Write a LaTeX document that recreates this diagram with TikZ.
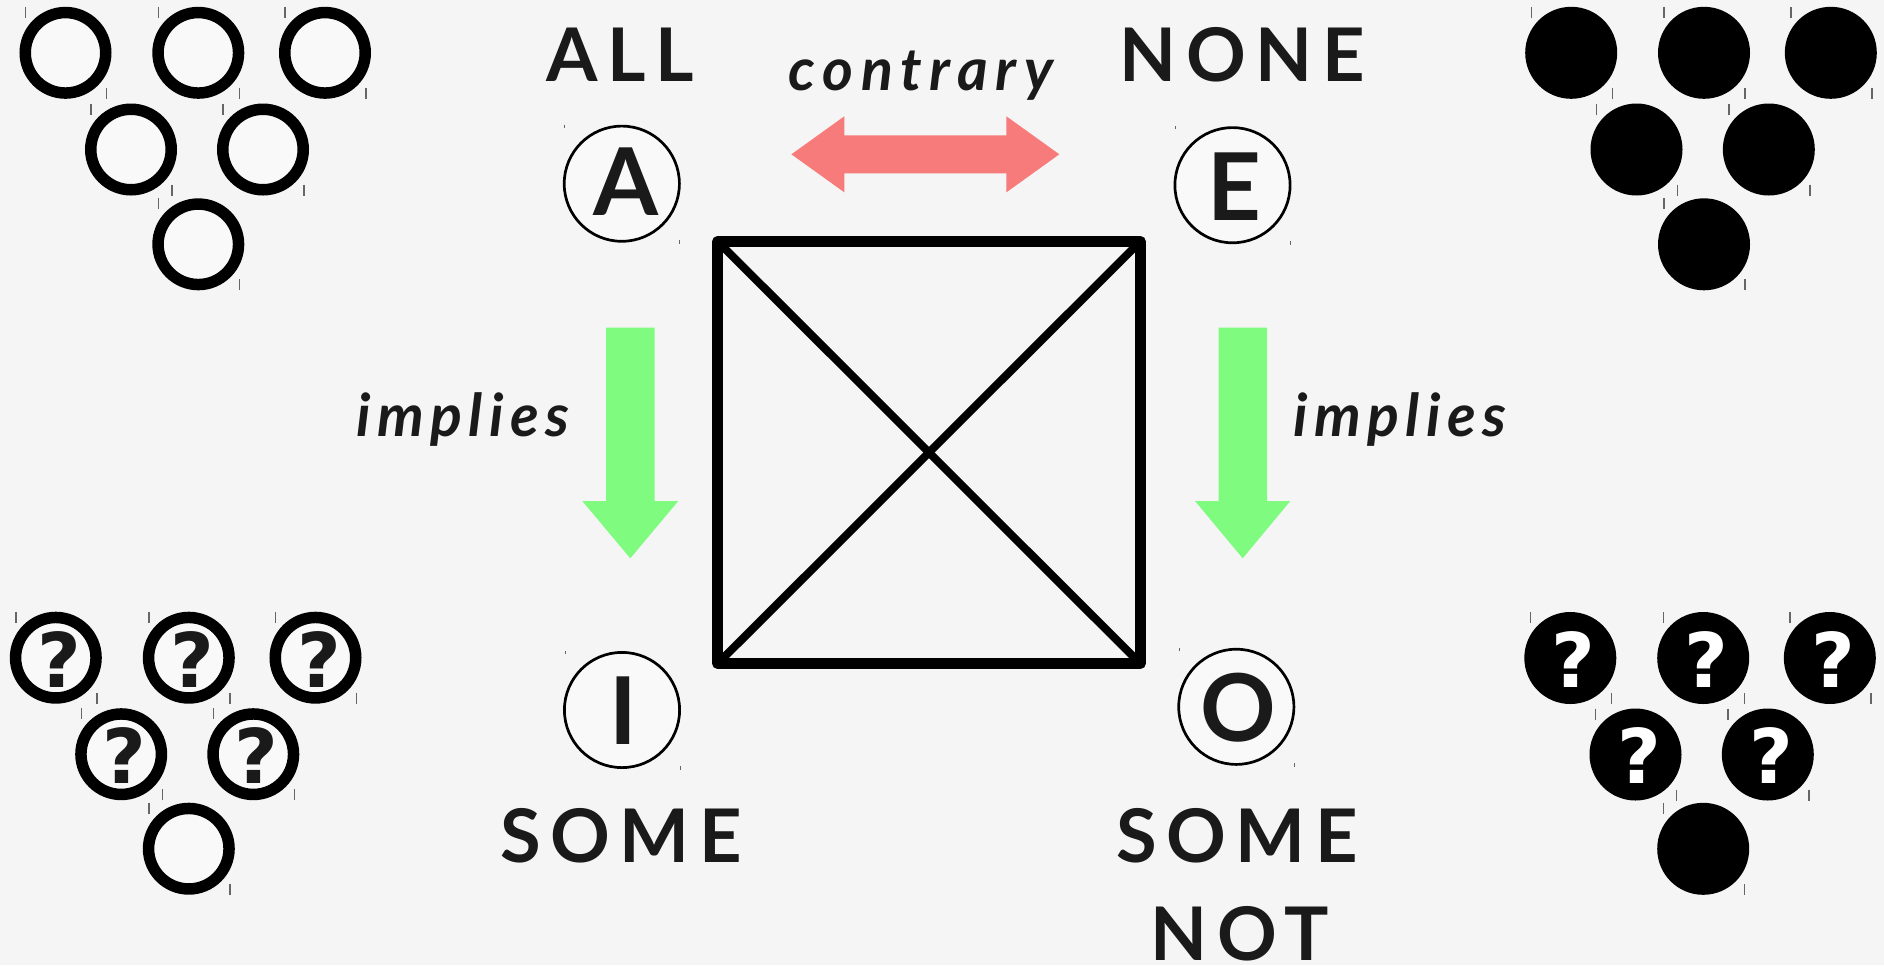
\documentclass[tikz,border=0pt]{standalone}
\usepackage{fontspec}
\setmainfont{Lato}
\newfontfamily\capsfont[LetterSpace=13]{Lato}
\newfontfamily\slfont[LetterSpace=11]{Lato}
\newfontfamily\slwidefont[LetterSpace=13]{Lato}
\newfontfamily\qfont{DejaVu Sans}
\definecolor{bg}{HTML}{F5F5F5}
\definecolor{ink}{HTML}{1A1A1A}
\definecolor{cfill}{HTML}{F9F9F9}
\definecolor{redarrow}{HTML}{F87B7B}
\definecolor{greenarrow}{HTML}{7FFB7F}
\definecolor{tickgray}{HTML}{666666}
\tikzset{
  wcirc/.style={circle, draw=black, line width=5.75pt, fill=cfill, minimum size=40.25pt, inner sep=0pt},
  bcirc/.style={circle, fill=black, minimum size=46pt, inner sep=0pt},
  bigcirc/.style={circle, draw=black, line width=1.35pt, fill=cfill, minimum size=57.6pt, inner sep=0pt},
  tickmark/.style={draw=tickgray, line width=0.7pt},
  smalltick/.style={draw=tickgray, line width=0.5pt},
  capslabel/.style={anchor=base, inner sep=0pt, text=ink, font=\capsfont\bfseries\fontsize{37}{40}\selectfont},
  itlabel/.style={anchor=base, inner sep=0pt, text=ink, font=\slfont\bfseries\itshape\fontsize{29.5}{32}\selectfont},
  itwidelabel/.style={anchor=base, inner sep=0pt, text=ink, font=\slwidefont\bfseries\itshape\fontsize{29.5}{32}\selectfont},
  circletter/.style={anchor=center, inner sep=0pt, text=ink, font=\bfseries\fontsize{46.8}{50}\selectfont},
  qdark/.style={anchor=center, inner sep=0pt, text=ink, font=\qfont\bfseries\fontsize{37.7}{40}\selectfont},
  qlight/.style={anchor=center, inner sep=0pt, text=white, font=\qfont\bfseries\fontsize{37.7}{40}\selectfont},
  squareline/.style={draw=black, line width=5.5pt, line join=round},
  diagline/.style={draw=black, line width=4pt, line cap=round}
}
\begin{document}
\begin{tikzpicture}[x=0.5pt, y=-0.5pt]
\useasboundingbox (0,0) rectangle (1884,965);
\fill[bg] (0,0) rectangle (1884,965);

% top-left white circles
\foreach \x/\y/\n in {65.5/52.8/1, 198.3/52.8/2, 325/52.8/3, 131/149.5/4, 263/149.5/5, 198.3/244.3/6} {
  \node[wcirc] (tw\n) at (\x,\y) {};
  \draw[tickmark] ({\x-40},{\y-46}) -- ({\x-40},{\y-35});
  \draw[tickmark] ({\x+41},{\y+35}) -- ({\x+41},{\y+46});
}
% top-right black circles
\foreach \x/\y/\n in {1571.2/52.8/1, 1704/52.8/2, 1830.8/52.8/3, 1636.5/149.5/4, 1768.8/149.5/5, 1704/244.3/6} {
  \node[bcirc] (tb\n) at (\x,\y) {};
  \draw[tickmark] ({\x-40},{\y-46}) -- ({\x-40},{\y-35});
  \draw[tickmark] ({\x+41},{\y+35}) -- ({\x+41},{\y+46});
}
% bottom-left question circles
\foreach \x/\y/\n in {55.8/657.7/1, 188.8/657.7/2, 315.5/657.7/3, 121.2/754.2/4, 253.3/754.2/5} {
  \node[wcirc] (bw\n) at (\x,\y) {};
  \node[qdark] (bwq\n) at ({\x+3.4},{\y+1.5}) {?};
  \draw[tickmark] ({\x-40},{\y-46}) -- ({\x-40},{\y-35});
  \draw[tickmark] ({\x+41},{\y+35}) -- ({\x+41},{\y+46});
}
\node[wcirc] (bw6) at (188.8,848.7) {};
\draw[tickmark] (148.8,802.7) -- (148.8,813.7);
\draw[tickmark] (229.8,883.7) -- (229.8,894.7);
% bottom-right black question circles
\foreach \x/\y/\n in {1570.3/658/1, 1703.2/658/2, 1829.8/658/3, 1635.5/754.5/4, 1767.8/754.5/5} {
  \node[bcirc] (bb\n) at (\x,\y) {};
  \node[qlight] (bbq\n) at ({\x+3.4},{\y+1.5}) {?};
  \draw[tickmark] ({\x-40},{\y-46}) -- ({\x-40},{\y-35});
  \draw[tickmark] ({\x+41},{\y+35}) -- ({\x+41},{\y+46});
}
\node[bcirc] (bb6) at (1703.2,848.8) {};
\draw[tickmark] (1663.2,802.8) -- (1663.2,813.8);
\draw[tickmark] (1744.2,883.8) -- (1744.2,894.8);

% big letter circles
\foreach \x/\y/\n in {621.8/183.7/A, 1232.5/185.2/E, 622/710/I, 1236.3/706.8/O} {
  \node[bigcirc] (c\n) at (\x,\y) {};
  \draw[smalltick] ({\x-57},{\y-59}) -- ({\x-57},{\y-56});
  \draw[smalltick] ({\x+58},{\y+56}) -- ({\x+58},{\y+60});
}
\node[circletter] (lA) at (626.3,181.7) {A};
\node[circletter] (lE) at (1234.2,186.3) {E};
\node[circletter] (lI) at (623.5,710.3) {I};
\node[circletter] (lO) at (1238.6,707.5) {O};

% labels
\node[capslabel] (tall) at (620,81.7) {ALL};
\node[capslabel] (tnone) at (1242.5,81.7) {NONE};
\node[capslabel] (tsomeL) at (621,862.7) {SOME};
\node[capslabel] (tsomeR) at (1236.9,862.7) {SOME};
\node[capslabel] (tnot) at (1240,960) {NOT};
\node[itwidelabel] (tcontrary) at (921,90.7) {contrary};
\node[itlabel] (timpL) at (463,436.7) {implies};
\node[itlabel] (timpR) at (1399.7,436.7) {implies};

% square with diagonals
\coordinate (sqTL) at (717.8,241.5);
\coordinate (sqTR) at (1140.2,241.5);
\coordinate (sqBR) at (1140.2,663.5);
\coordinate (sqBL) at (717.8,663.5);
\draw[diagline] (sqTL) -- (sqBR);
\draw[diagline] (sqTR) -- (sqBL);
\draw[squareline] (sqTL) -- (sqTR) -- (sqBR) -- (sqBL) -- cycle;

% contrary double arrow
\coordinate (raL) at (791.4,154.3);
\coordinate (raR) at (1059.3,154.3);
\fill[redarrow] (raL) -- ++(52.9,-38) -- ++(0,19) -- ++(162.1,0) -- ++(0,-19)
  -- (raR) -- ++(-52.9,38) -- ++(0,-19) -- ++(-162.1,0) -- ++(0,19) -- cycle;

% implies arrows
\coordinate (gaL) at (630.3,558.3);
\coordinate (gaR) at (1242.7,558.3);
\fill[greenarrow] (606,327.7) -- (654.7,327.7) -- (654.7,501) -- (678.3,501) -- (gaL) -- (582.3,501) -- (606,501) -- cycle;
\fill[greenarrow] (1218.7,327.7) -- (1267,327.7) -- (1267,501) -- (1290.3,501) -- (gaR) -- (1195,501) -- (1218.7,501) -- cycle;
\end{tikzpicture}
\end{document}
